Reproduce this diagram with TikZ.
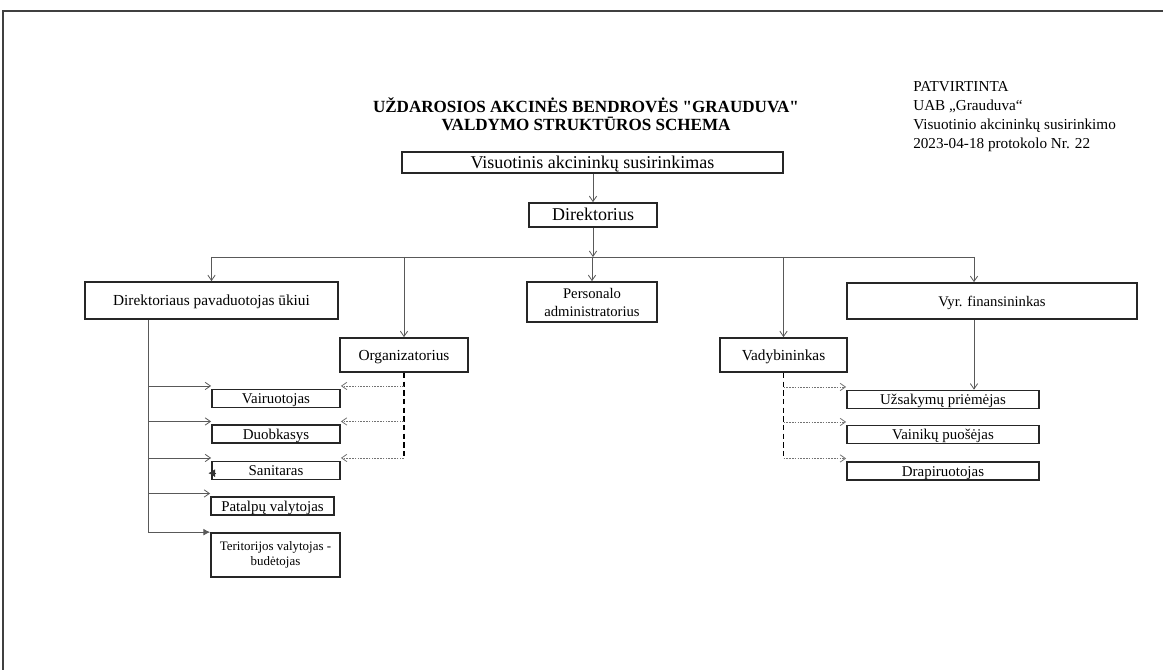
\documentclass[tikz,border=0pt]{standalone}
\usepackage{fontspec}
\setmainfont{Liberation Serif}[Ligatures=TeXOff]
\usetikzlibrary{arrows.meta}

\begin{document}
\begin{tikzpicture}[x=0.75pt, y=-0.75pt,
  >={Straight Barb[length=4pt,width=5.5pt]},
  sz/.style 2 args={font=\fontsize{#1}{#2}\selectfont},
  box/.style={draw=black!85, line width=1.3pt, inner xsep=2pt, inner ysep=0.5pt},
  low/.style={text height=8.6pt, text depth=1pt},
  sub/.style={box, low, sz={11.2}{13}, minimum width=96pt, minimum height=13.5pt},
  rsub/.style={sub, minimum width=144pt},
  link/.style={draw=black!65, line width=0.6pt},
  trunk/.style={draw=black, line width=1.3pt, dash pattern=on 4pt off 2.5pt},
  dots/.style={draw=black!55, line width=0.6pt, dash pattern=on 1.2pt off 0.9pt}]
\useasboundingbox (0,0) rectangle (1163,670);
\draw[black!75, line width=1.2pt] (3,670) -- (3,11) -- (1163,11);

% headings
\node[align=center, font=\bfseries\fontsize{12.8}{13.5}\selectfont] (title) at (586,114)
  {UŽDAROSIOS AKCINĖS BENDROVĖS "GRAUDUVA"\\VALDYMO STRUKTŪROS SCHEMA};
\node[align=left, anchor=north west, inner sep=0pt, sz={11.4}{14.3}] (approved) at (913,81)
  {PATVIRTINTA\\UAB „Grauduva“\\Visuotinio akcininkų susirinkimo\\2023-04-18 protokolo Nr. 22};

% upper levels
\node[box, sz={13.5}{15}, text height=10.2pt, text depth=1.2pt, minimum width=285.75pt, minimum height=15.75pt] (meeting) at (592.5,162.5) {Visuotinis akcininkų susirinkimas};
\node[box, sz={13.5}{15}, text height=10.2pt, text depth=1.2pt, minimum width=96pt, minimum height=18pt] (director) at (593,215) {Direktorius};
\node[box, low, sz={11.5}{13}, minimum width=189.75pt, minimum height=27.75pt] (deputy) at (211.5,300.5) {Direktoriaus pavaduotojas ūkiui};
\node[box, align=center, sz={11}{13.5}, minimum width=97.5pt, minimum height=30pt] (personnel) at (592,302) {Personalo\\administratorius};
\node[box, low, sz={11}{13}, minimum width=217.5pt, minimum height=27pt] (finance) at (992,301) {Vyr. finansininkas};
\node[box, low, sz={11.5}{13}, minimum width=96pt, minimum height=25.5pt] (organizer) at (404,355) {Organizatorius};
\node[box, low, sz={11.5}{13}, minimum width=95.25pt, minimum height=25.5pt] (manager) at (783.5,355) {Vadybininkas};

% staff
\node[sub] (driver) at (276,398.5) {Vairuotojas};
\node[sub] (digger) at (276,434) {Duobkasys};
\node[sub] (orderly) at (276,470.5) {Sanitaras};
\node[sub, minimum width=92.25pt] (cleaner) at (272.5,506) {Patalpų valytojas};
\node[box, align=center, sz={9.7}{11.3}, minimum width=96.75pt, minimum height=33pt] (guard) at (275.5,555) {Teritorijos valytojas -\\budėtojas};
\node[rsub] (orders) at (943,399.5) {Užsakymų priėmėjas};
\node[rsub] (wreaths) at (943,434.5) {Vainikų puošėjas};
\node[rsub] (drapery) at (943,471) {Drapiruotojas};

\coordinate (bus) at (593,257);
\coordinate (fx) at (974,0);
\coordinate (lx) at (148,0);

\draw[link, ->] (meeting.south -| director.north) -- (director.north);
\draw[link, ->] (director.south) -- (bus);
\draw[link] (bus -| deputy.north) -- (bus -| fx);
\foreach \n in {deputy, organizer, personnel, manager}
  \draw[link, ->] (bus -| \n.north) -- (\n.north);
\draw[link, ->] (bus -| fx) -- (finance.north -| fx);
\draw[link, ->] (finance.south -| fx) -- (orders.north -| fx);

% left side
\foreach \n in {driver, digger, orderly, cleaner}
  \path ([yshift=2pt]\n.north west) coordinate (\n-w) ([yshift=2pt]\n.north east) coordinate (\n-e);
\draw[link, -{Latex[length=5pt,width=5pt]}] (deputy.south -| lx) |- (guard.north west);
\foreach \n in {driver, digger, orderly, cleaner}
  \draw[link, ->] (\n-w -| lx) -- (\n-w);
\draw[-{Latex[length=5pt,width=6pt]}, black!80] ([xshift=4pt,yshift=-2pt]orderly.west) -- ([xshift=-2pt,yshift=-2pt]orderly.west);

\draw[trunk] (organizer.south) -- (orderly-e -| organizer.south);
\foreach \n in {driver, digger, orderly}
  \draw[dots, ->] (\n-e -| organizer.south) -- (\n-e);

% right side
\foreach \n in {orders, wreaths, drapery}
  \path ([yshift=2pt]\n.north west) coordinate (\n-w);
\draw[trunk] (manager.south) -- (drapery-w -| manager.south);
\foreach \n in {orders, wreaths, drapery}
  \draw[dots, ->] (\n-w -| manager.south) -- (\n-w);
\end{tikzpicture}
\end{document}
